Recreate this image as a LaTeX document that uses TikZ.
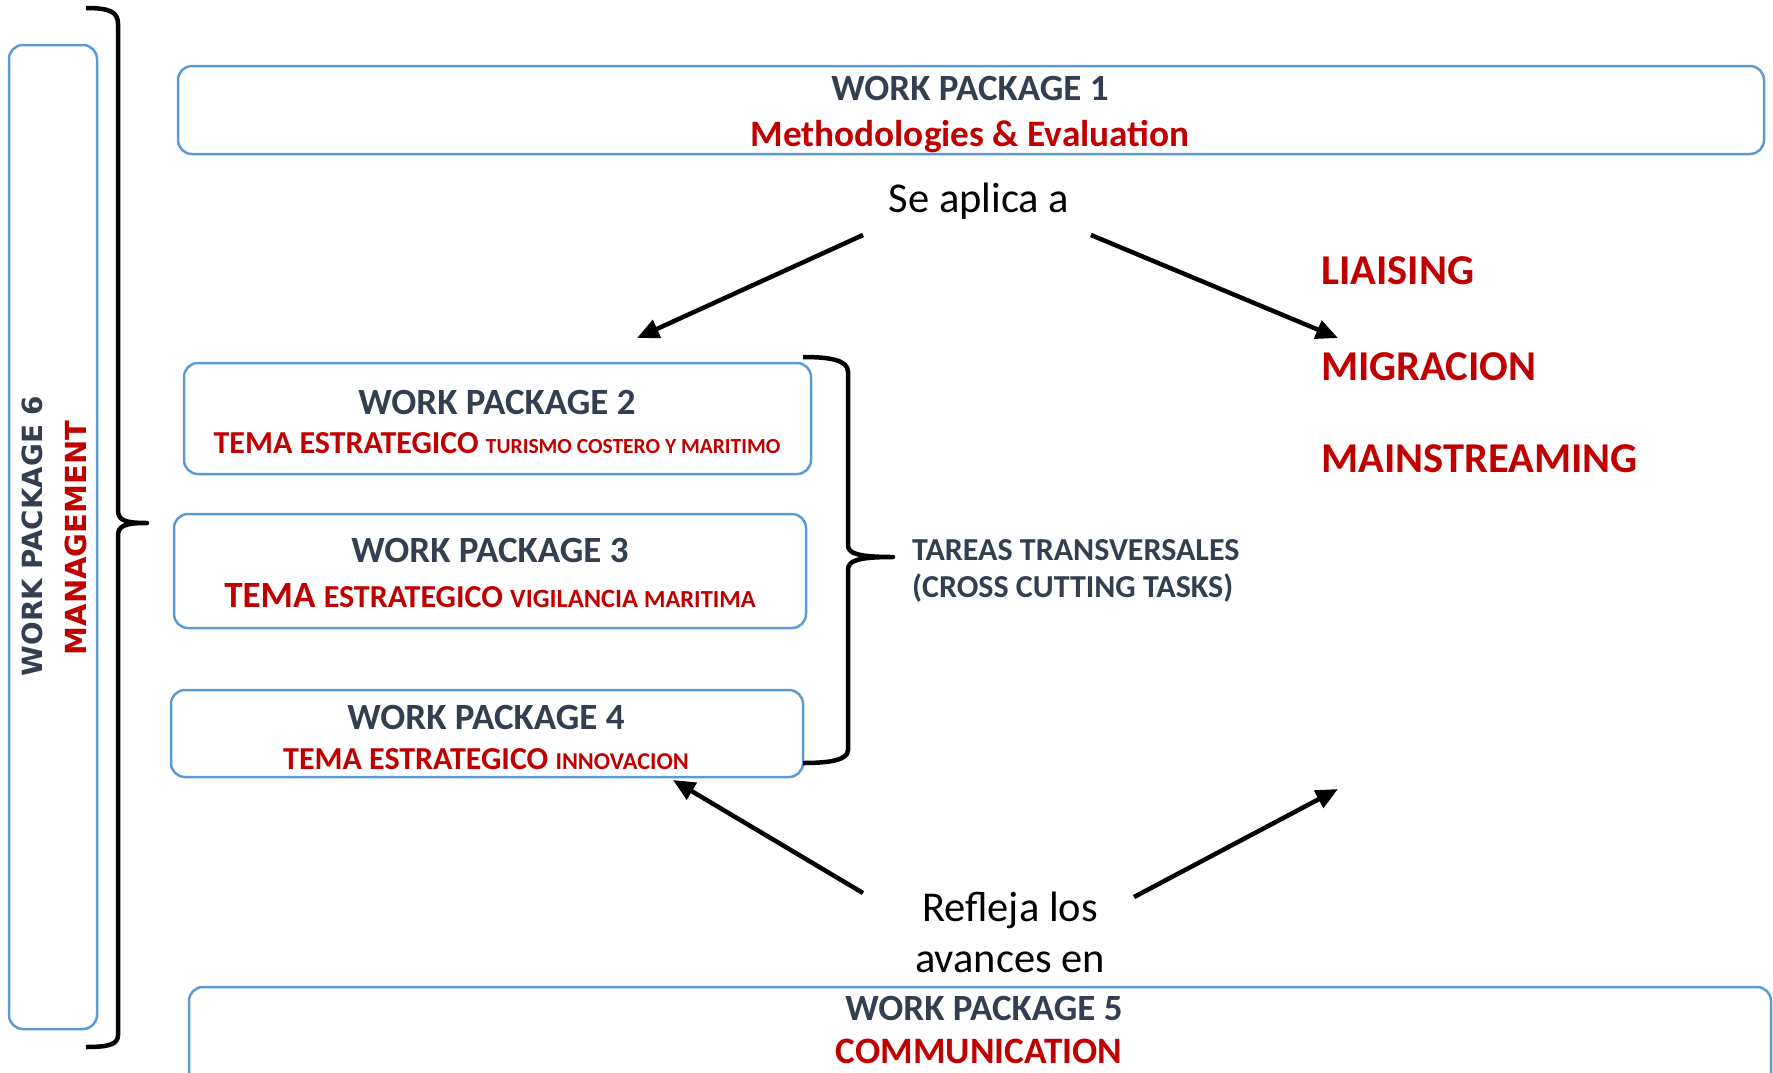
\documentclass[tikz,border=0pt]{standalone}
\usepackage{fontspec}
\setmainfont{Carlito}
\newfontfamily\dvs{DejaVu Sans}
\usetikzlibrary{arrows.meta}
\definecolor{wpdark}{HTML}{333F50}
\definecolor{wpred}{HTML}{C00000}
\definecolor{wpblue}{HTML}{5B9BD5}
\begin{document}
\begin{tikzpicture}[x=1pt,y=-1pt,
  wpbox/.style={draw=wpblue, line width=2.5pt, rounded corners=14pt, inner sep=0pt},
  wphead/.style={anchor=base, inner sep=0pt, text=wpdark, font=\fontsize{37}{42}\selectfont\bfseries},
  wpsub/.style={anchor=base, inner sep=0pt, text=wpred, font=\bfseries},
  plain/.style={anchor=base, inner sep=0pt, text=black, font=\fontsize{42.5}{48}\selectfont},
  bigred/.style={anchor=base west, inner sep=0pt, text=wpred, font=\fontsize{42.5}{48}\selectfont\bfseries},
  conn/.style={line width=4.5pt, -{Triangle[length=22pt,width=19pt]}},
  bracestyle/.style={line width=4.5pt, line join=round}
]
\useasboundingbox (0,0) rectangle (1773,1072);

% boxes
\node[wpbox, minimum width=1586pt, minimum height=88pt] (wp1) at (971,110) {};
\node[wpbox, minimum width=627pt, minimum height=111pt] (wp2) at (497.5,418.5) {};
\node[wpbox, minimum width=632pt, minimum height=114pt] (wp3) at (490,571) {};
\node[wpbox, minimum width=632pt, minimum height=87pt] (wp4) at (487,733.5) {};
\node[wpbox, minimum width=1582pt, minimum height=113pt] (wp5) at (980,1043.5) {};
\node[wpbox, minimum width=88pt, minimum height=984pt] (wp6) at (53,537) {};

% texts
\node[wphead] (t1) at (970,100.6) {WORK PACKAGE 1};
\node[wpsub, font=\fontsize{37.3}{42}\selectfont\bfseries] (t1b) at (970,146) {Methodologies \& Evaluation};

\node[wphead] (t2) at (497,414) {WORK PACKAGE 2};
\node[wpsub] (t2b) at (497,453) {\fontsize{32}{36}\selectfont TEMA ESTRATEGICO \fontsize{21.5}{26}\selectfont TURISMO COSTERO Y MARITIMO};

\node[wphead] (t3) at (490,562) {WORK PACKAGE 3};
\node[wpsub] (t3b) at (490,607) {\fontsize{37}{42}\selectfont TEMA \fontsize{32}{36}\selectfont ESTRATEGICO \fontsize{26.4}{30}\selectfont VIGILANCIA \fontsize{24.5}{28}\selectfont MARITIMA};

\node[wphead] (t4) at (486,729) {WORK PACKAGE 4};
\node[wpsub] (t4b) at (486,769) {\fontsize{32}{36}\selectfont TEMA ESTRATEGICO \fontsize{24.2}{28}\selectfont INNOVACION};

\node[wphead] (t5) at (984,1020) {WORK PACKAGE 5};
\node[wpsub, font=\fontsize{37.3}{42}\selectfont\bfseries] (t5b) at (979,1063) {COMMUNICATION};

\node[inner sep=0pt, rotate=90, text=wpdark, font=\dvs\fontsize{27.8}{32}\selectfont\bfseries] (t6) at (32,536) {WORK PACKAGE 6};
\node[inner sep=0pt, rotate=90, text=wpred, font=\dvs\fontsize{29}{32}\selectfont\bfseries] (t6b) at (76,538) {MANAGEMENT};

\node[plain] (se) at (979,212.6) {Se aplica a};
\node[plain] (ref1) at (1010,921.5) {Refleja los};
\node[plain] (ref2) at (1010,972) {avances en};

\node[bigred] (li) at (1321,284) {LIAISING};
\node[bigred] (mi) at (1321,380) {MIGRACION};
\node[bigred] (ma) at (1321,472) {MAINSTREAMING};

\node[anchor=base west, inner sep=0pt, text=wpdark, font=\fontsize{32}{36}\selectfont\bfseries] (ta) at (912,560) {TAREAS TRANSVERSALES};
\node[anchor=base west, inner sep=0pt, text=wpdark, font=\fontsize{32}{36}\selectfont\bfseries] (tb) at (912,597) {(CROSS CUTTING TASKS)};

% arrows
\coordinate (a1s) at (863,235);
\coordinate (a1e) at (637,338);
\coordinate (a2s) at (1091,235);
\coordinate (a2e) at (1338,338);
\coordinate (a3s) at (863,893);
\coordinate (a3e) at (673,780);
\coordinate (a4s) at (1134,897);
\coordinate (a4e) at (1338,789);
\draw[conn] (a1s) -- (a1e);
\draw[conn] (a2s) -- (a2e);
\draw[conn] (a3s) -- (a3e);
\draw[conn] (a4s) -- (a4e);

% big brace
\draw[bracestyle] (86,8) .. controls (110,8) and (118,12) .. (118,24) -- (118,510)
  .. controls (118,520) and (124,523) .. (147,523)
  .. controls (124,523) and (118,526) .. (118,536) -- (118,1035)
  .. controls (118,1044) and (110,1047) .. (86,1047);

% small brace
\draw[bracestyle] (803,357) .. controls (830,357) and (848,360) .. (848,372) -- (848,545)
  .. controls (848,553) and (856,557) .. (893,557)
  .. controls (856,557) and (848,561) .. (848,570) -- (848,750)
  .. controls (848,760) and (830,763) .. (803,763);
\end{tikzpicture}
\end{document}
